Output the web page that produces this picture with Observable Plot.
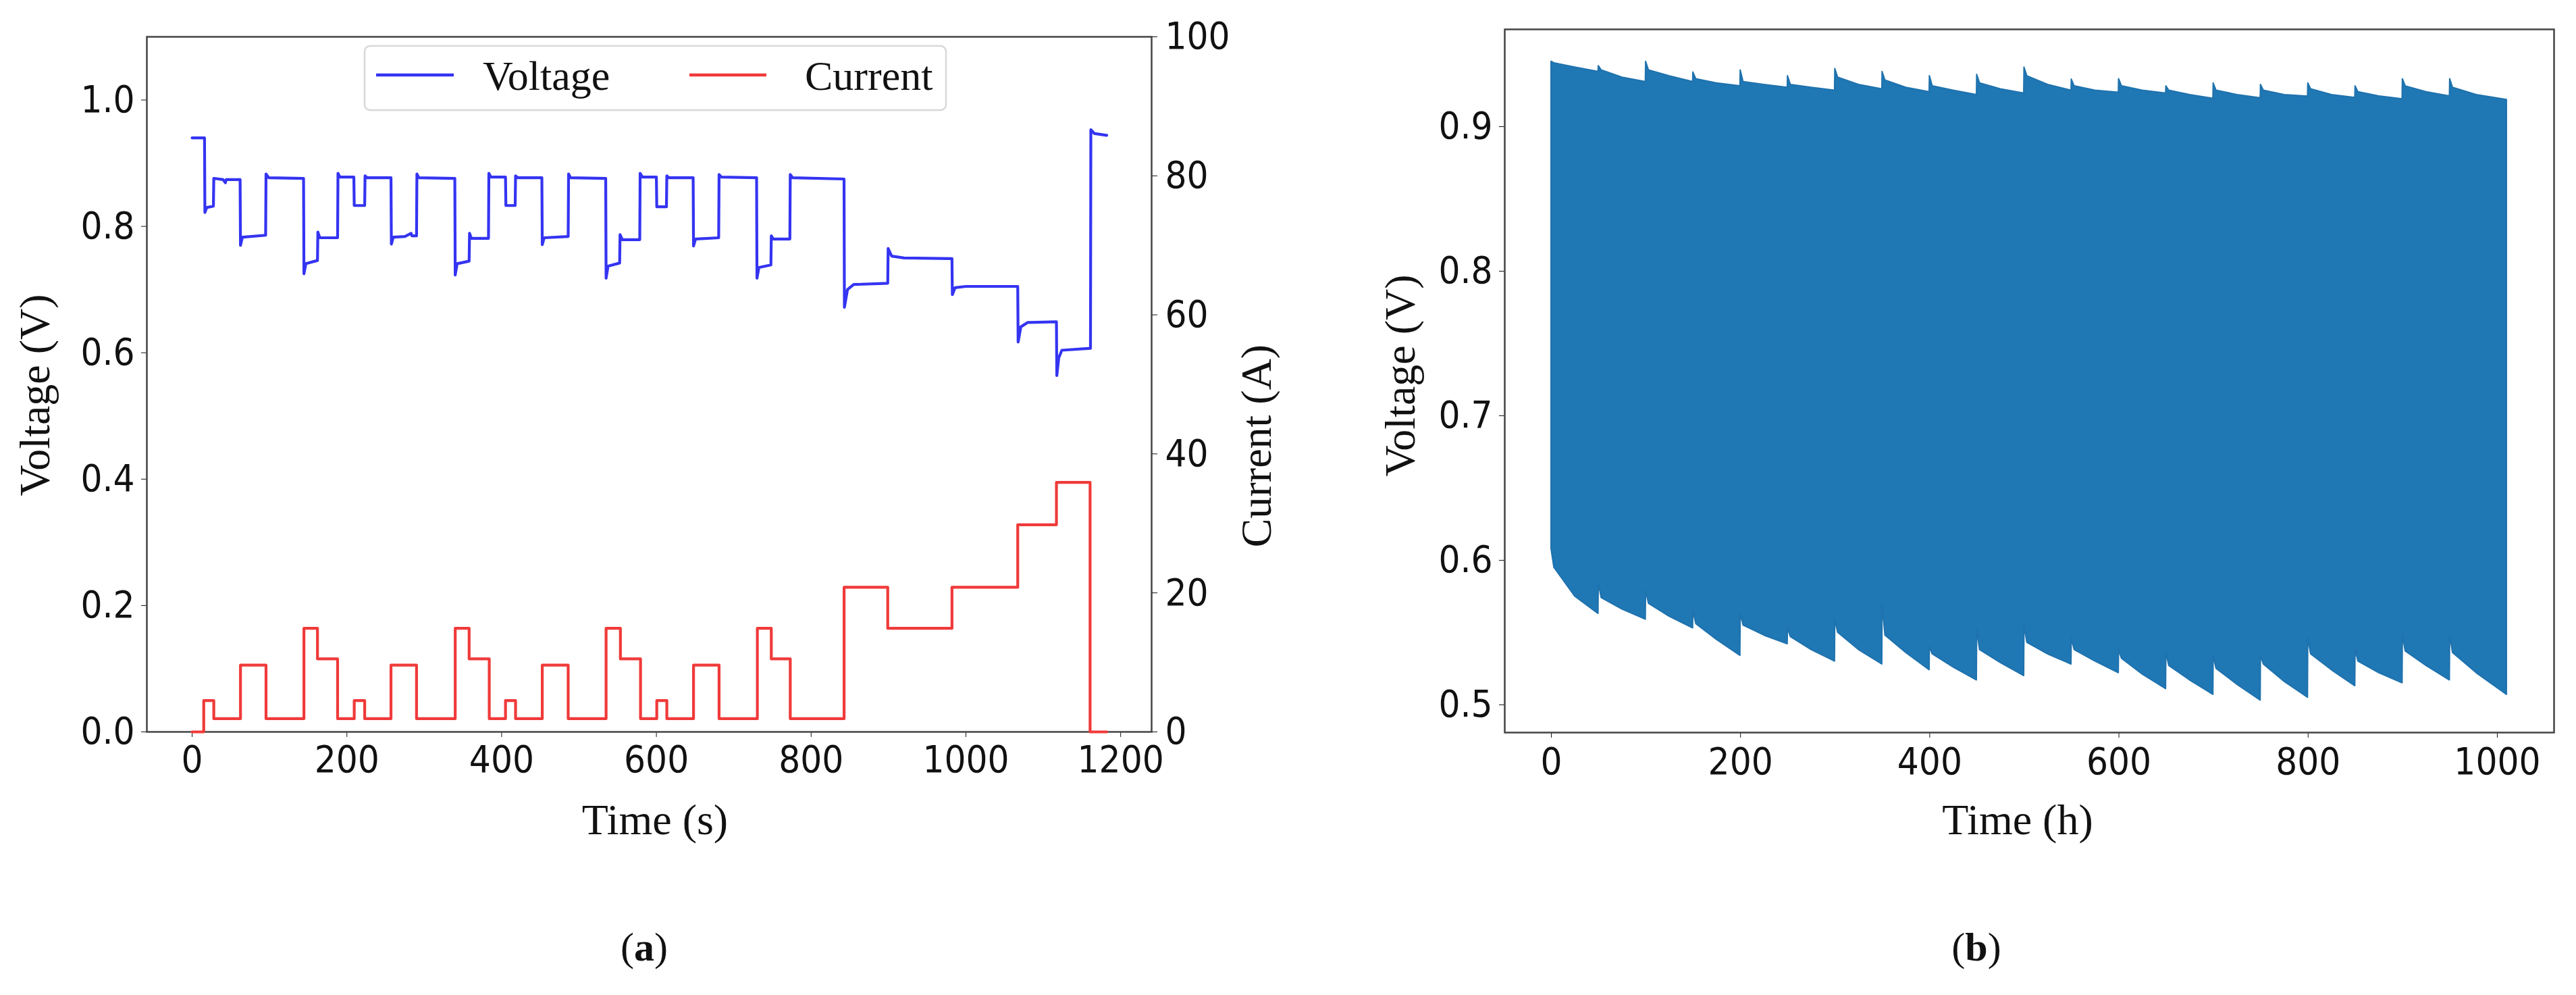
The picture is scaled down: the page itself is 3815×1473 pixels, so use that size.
<!DOCTYPE html>
<html>
<head>
<meta charset="utf-8">
<script src="https://cdn.jsdelivr.net/npm/d3@7"></script>
<script src="https://cdn.jsdelivr.net/npm/@observablehq/plot@0.6"></script>
<style>
  html, body { margin: 0; padding: 0; background: #ffffff; }
  #root { position: relative; width: 3815px; height: 1473px; background: #ffffff; overflow: hidden; }
  .layer { position: absolute; top: 0; }
</style>
</head>
<body>
<div id="root"></div>
<script>
// ---------- Panel (a): step test, voltage (V) and current (A) vs time (s) ----------
const vTime = [0,16,16.5,19,27.5,28,40,43,44,62,62.5,65,95,95.5,99,144,144.5,147,162,162.5,165,188,188.5,191,209,209.5,223,223.5,226,257,257.5,260,275,283,284,290,290.5,293,339.5,340,342.5,358,358.5,361,383,383.5,386,405,405.5,417.5,418,421,452,452.5,455,486,486.5,489,534.5,535,537.5,552.5,553,556,578.5,579,582,600,600.5,613,613.5,616,647.5,648,650.5,680.5,681,684,729.5,730,732.5,748,748.5,751,772.5,773,776,842.5,843,847,855,899,899.5,904,920,982,982.5,986,1000,1067,1067.5,1071,1080,1117,1117.5,1120,1124,1161,1161.5,1166,1182];
const vVolt = [0.940,0.940,0.822,0.830,0.832,0.876,0.874,0.869,0.874,0.874,0.770,0.783,0.786,0.883,0.877,0.876,0.725,0.741,0.746,0.791,0.782,0.782,0.884,0.878,0.878,0.833,0.833,0.880,0.877,0.877,0.772,0.783,0.784,0.789,0.785,0.785,0.883,0.877,0.876,0.723,0.741,0.745,0.789,0.781,0.781,0.884,0.878,0.878,0.833,0.833,0.880,0.877,0.877,0.771,0.782,0.784,0.883,0.877,0.876,0.718,0.737,0.742,0.787,0.779,0.779,0.884,0.878,0.878,0.831,0.831,0.880,0.877,0.877,0.769,0.780,0.782,0.882,0.878,0.877,0.718,0.735,0.739,0.785,0.780,0.780,0.882,0.877,0.875,0.672,0.700,0.708,0.710,0.765,0.753,0.750,0.749,0.692,0.703,0.705,0.705,0.617,0.641,0.648,0.649,0.564,0.592,0.604,0.607,0.953,0.947,0.944];

const iTime = [0,15,28,62.5,95.5,144.5,162,188,209.5,223,257,290,340,358,384,405,418,452.5,486,535,553.5,579.5,600.5,613.5,648,681,730.5,748.5,773,842.6,899,982,1067,1117,1160.5,1182];
const iAmp  = [0,4.5,1.9,9.6,1.9,14.9,10.5,1.9,4.5,1.9,9.6,1.9,14.9,10.5,1.9,4.5,1.9,9.6,1.9,14.9,10.5,1.9,4.5,1.9,9.6,1.9,14.9,10.5,1.9,20.8,14.9,20.8,29.8,35.9,0,0];

const xTicksA = [0,200,400,600,800,1000,1200];
const vTicksA = [0,0.2,0.4,0.6,0.8,1.0];
const iTicksA = [0,20,40,60,80,100];

// ---------- Panel (b): long-term cycling voltage envelope vs time (h) ----------
const cycleStartH = [0,50,100,150,200,250,300,350,400,450,500,550,600,650,700,750,800,850,900,950];
const cycleMidH   = [25,75,125,175,225,275,325,375,425,475,525,575,625,675,725,775,825,875,925,978];
const cycleEndH   = [49.7,99.7,149.7,199.7,249.7,299.7,349.7,399.7,449.7,499.7,549.7,599.7,649.7,699.7,749.7,799.7,849.7,899.7,949.7,1010];
const upperPeak   = [0.945,0.942,0.945,0.9376,0.939,0.935,0.940,0.938,0.935,0.936,0.941,0.9327,0.933,0.928,0.930,0.929,0.930,0.928,0.933,0.933];
const upperSettle = [0.944,0.939,0.939,0.933,0.931,0.929,0.934,0.932,0.928,0.930,0.935,0.928,0.928,0.925,0.925,0.925,0.926,0.924,0.928,0.927];
const upperMid    = [0.941,0.934,0.935,0.930,0.929,0.927,0.929,0.927,0.925,0.926,0.929,0.925,0.925,0.922,0.922,0.922,0.922,0.921,0.924,0.922];
const upperEnd    = [0.938,0.931,0.931,0.928,0.927,0.925,0.926,0.924,0.922,0.923,0.925,0.9236,0.923,0.9194,0.9197,0.9209,0.920,0.919,0.921,0.9186];
const lowerPeak   = [0.608,0.584,0.579,0.565,0.563,0.553,0.559,0.569,0.540,0.552,0.555,0.546,0.538,0.536,0.534,0.534,0.546,0.538,0.548,0.548];
const lowerSettle = [0.595,0.574,0.570,0.556,0.555,0.547,0.550,0.548,0.535,0.538,0.543,0.538,0.532,0.527,0.525,0.528,0.535,0.530,0.537,0.536];
const lowerMid    = [0.575,0.566,0.561,0.545,0.548,0.538,0.538,0.536,0.526,0.529,0.535,0.530,0.521,0.517,0.514,0.516,0.524,0.522,0.527,0.522];
const lowerEnd    = [0.563,0.559,0.553,0.534,0.542,0.530,0.528,0.524,0.517,0.520,0.528,0.522,0.511,0.507,0.503,0.505,0.513,0.515,0.517,0.507];

const xTicksB = [0,200,400,600,800,1000];
const vTicksB = [0.5,0.6,0.7,0.8,0.9];

// ---------- build tables ----------
const voltRows = vTime.map((t, i) => ({t, v: vVolt[i]}));
const currRows = iTime.map((t, i) => ({t, a: iAmp[i]}));
const envRows = [];
cycleStartH.forEach((h, k) => {
  envRows.push({h: h, lo: lowerPeak[k], hi: upperPeak[k]});
  envRows.push({h: h + 3, lo: lowerSettle[k], hi: upperSettle[k]});
  envRows.push({h: cycleMidH[k], lo: lowerMid[k], hi: upperMid[k]});
  envRows.push({h: cycleEndH[k], lo: lowerEnd[k], hi: upperEnd[k]});
});

const tickFont = '"DejaVu Sans Condensed", "DejaVu Sans", sans-serif';
const baseStyle = {fontFamily: tickFont, fontSize: "56px", color: "#111", background: "transparent", overflow: "visible"};
const frameColor = "#444";

const root = document.getElementById("root");
function place(el, left) {
  const d = document.createElement("div");
  d.className = "layer";
  d.style.left = left + "px";
  d.appendChild(el);
  root.appendChild(d);
}

// Panel (a) voltage plot
const W_A = 1960, H_A = 1300;
const mA = {marginLeft: 217, marginRight: W_A - 1705, marginTop: 54, marginBottom: H_A - 1083};
const plotA = Plot.plot({
  width: W_A, height: H_A, ...mA,
  style: baseStyle,
  x: {domain: [-58.5, 1240]},
  y: {domain: [0, 1.1]},
  marks: [
    Plot.line(voltRows, {x: "t", y: "v", stroke: "#3434f2", strokeWidth: 4.2}),
    Plot.axisX({ticks: xTicksA, tickSize: 8, tickPadding: 12, label: null, tickFormat: d => String(d)}),
    Plot.axisY({ticks: vTicksA, tickSize: 8, tickPadding: 10, label: null, tickFormat: d3.format(".1f")}),
    Plot.frame({stroke: frameColor, strokeWidth: 2.5})
  ]
});
place(plotA, 0);

// Panel (a) current overlay with its own right-hand scale
const plotA2 = Plot.plot({
  width: W_A, height: H_A, ...mA,
  style: baseStyle,
  x: {domain: [-58.5, 1240], axis: null},
  y: {domain: [0, 100]},
  marks: [
    Plot.line(currRows, {x: "t", y: "a", curve: "step-after", stroke: "#f03a3a", strokeWidth: 4.2}),
    Plot.axisY({anchor: "right", ticks: iTicksA, tickSize: 8, tickPadding: 12, label: null, tickFormat: d => String(d)})
  ]
});
place(plotA2, 0);

// Panel (b)
const W_B = 1855, H_B = 1300;
const plotB = Plot.plot({
  width: W_B, height: H_B,
  marginLeft: 268, marginRight: 33, marginTop: 43, marginBottom: H_B - 1084,
  style: baseStyle,
  x: {domain: [-49.25, 1060]},
  y: {domain: [0.4808, 0.9673]},
  marks: [
    Plot.areaY(envRows, {x: "h", y1: "lo", y2: "hi", fill: "#1f77b4", stroke: "#1f72ad", strokeWidth: 2}),
    Plot.axisX({ticks: xTicksB, tickSize: 8, tickPadding: 14, label: null, tickFormat: d => String(d)}),
    Plot.axisY({ticks: vTicksB, tickSize: 8, tickPadding: 10, label: null, tickFormat: d3.format(".1f")}),
    Plot.frame({stroke: frameColor, strokeWidth: 2.5})
  ]
});
place(plotB, 1960);

// ---------- text labels and legend ----------
const svg = d3.select(root).append("svg")
  .attr("width", 3815).attr("height", 1473)
  .style("position", "absolute").style("left", 0).style("top", 0)
  .style("pointer-events", "none");
const serif = '"Liberation Serif", "Times New Roman", serif';

function label(txt, x, y, rot, size) {
  return svg.append("text").text(txt)
    .attr("font-family", serif).attr("font-size", size || 64)
    .attr("fill", "#111").attr("text-anchor", "middle")
    .attr("transform", `translate(${x},${y})` + (rot ? ` rotate(${rot})` : ""));
}
label("Time (s)", 970, 1235, 0);
label("Time (h)", 2988, 1235, 0);
label("Voltage (V)", 73, 585, -90);
label("Current (A)", 1882, 660, -90);
label("Voltage (V)", 2095, 556, -90);

function panelTag(letter, x, y) {
  const t = svg.append("text").attr("font-family", serif).attr("font-size", 60)
    .attr("fill", "#111").attr("text-anchor", "middle").attr("x", x).attr("y", y);
  t.append("tspan").text("(");
  t.append("tspan").attr("font-weight", "bold").text(letter);
  t.append("tspan").text(")");
}
panelTag("a", 954, 1422);
panelTag("b", 2927, 1422);

// legend
const lg = svg.append("g");
lg.append("rect").attr("x", 540).attr("y", 68).attr("width", 861).attr("height", 95)
  .attr("rx", 8).attr("fill", "rgba(255,255,255,0.85)").attr("stroke", "#d8d8d8").attr("stroke-width", 2.5);
lg.append("line").attr("x1", 557).attr("x2", 672).attr("y1", 111).attr("y2", 111)
  .attr("stroke", "#3434f2").attr("stroke-width", 4.5);
lg.append("text").text("Voltage").attr("x", 715).attr("y", 133)
  .attr("font-family", serif).attr("font-size", 62).attr("fill", "#111");
lg.append("line").attr("x1", 1021).attr("x2", 1135).attr("y1", 111).attr("y2", 111)
  .attr("stroke", "#f03a3a").attr("stroke-width", 4.5);
lg.append("text").text("Current").attr("x", 1192).attr("y", 133)
  .attr("font-family", serif).attr("font-size", 62).attr("fill", "#111");
</script>
</body>
</html>
